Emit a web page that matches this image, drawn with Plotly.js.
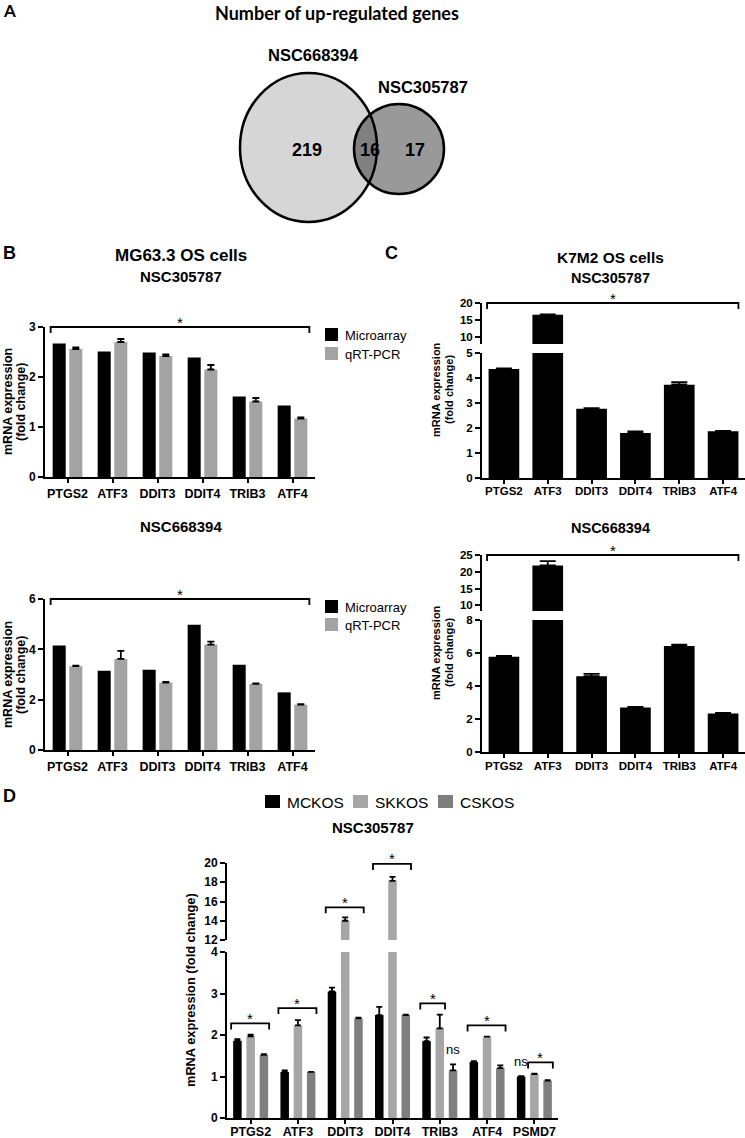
<!DOCTYPE html>
<html><head><meta charset="utf-8">
<script src="https://cdn.plot.ly/plotly-3.0.1.min.js"></script>
<style>html,body{margin:0;padding:0;background:#fff;}#chart{width:745px;height:1138px;}</style>
</head><body><div id="chart"></div>
<script>
// ---------------- DATA ----------------
const genesBC = ['PTGS2','ATF3','DDIT3','DDIT4','TRIB3','ATF4'];
const genesD = ['PTGS2','ATF3','DDIT3','DDIT4','TRIB3','ATF4','PSMD7'];
const seriesB = ['Microarray','qRT-PCR'];
const seriesD = ['MCKOS','SKKOS','CSKOS'];
const vennSets = ['NSC668394','NSC305787'];
const vennCounts = [219, 16, 17]; // only NSC668394, both, only NSC305787

// B: MG63.3 OS cells
const b305Micro = [2.67, 2.51, 2.49, 2.39, 1.61, 1.43];
const b305Qrt = [2.56, 2.70, 2.42, 2.15, 1.51, 1.17];
const b305QrtErr = [0.03, 0.06, 0.03, 0.09, 0.07, 0.02];
const b668Micro = [4.15, 3.15, 3.19, 4.98, 3.39, 2.29];
const b668Qrt = [3.33, 3.62, 2.68, 4.19, 2.63, 1.80];
const b668QrtErr = [0.02, 0.32, 0.03, 0.12, 0.02, 0.02];

// C: K7M2 OS cells
const c305 = [4.36, 16.5, 2.77, 1.80, 3.73, 1.87];
const c305Err = [0.02, 0.10, 0.02, 0.06, 0.10, 0.01];
const c668 = [5.78, 21.9, 4.59, 2.69, 6.42, 2.34];
const c668Err = [0.05, 1.30, 0.14, 0.05, 0.08, 0.03];

// D: NSC305787
const dMCKOS = [1.86, 1.11, 3.05, 2.48, 1.85, 1.35, 1.00];
const dMCKOSErr = [0.04, 0.04, 0.09, 0.20, 0.09, 0.02, 0.01];
const dSKKOS = [1.97, 2.23, 14.0, 18.15, 2.16, 1.96, 1.06];
const dSKKOSErr = [0.04, 0.13, 0.35, 0.40, 0.33, 0.00, 0.01];
const dCSKOS = [1.52, 1.11, 2.40, 2.48, 1.15, 1.20, 0.90];
const dCSKOSErr = [0.02, 0.00, 0.02, 0.01, 0.14, 0.07, 0.01];

// significance brackets in D: gene, first series, last series, level, label
const dSigGene = ['PTGS2','ATF3','DDIT3','DDIT4','TRIB3','ATF4','PSMD7'];
const dSigFrom = [0, 0, 0, 0, 0, 0, 1];
const dSigTo = [2, 2, 2, 2, 1, 2, 2];
const dSigLevel = [2.28, 2.65, 15.4, 19.9, 2.76, 2.23, 1.34];
const dNsGene = ['TRIB3','PSMD7'];
const dNsSeries = [2, 0];
const dNsLevel = [1.64, 1.35];

// ---------------- LAYOUT HELPERS ----------------
const W = 745, H = 1138;
const X = p => p / W;
const Y = p => 1 - p / H;
const FF = 'Liberation Sans, Arial, sans-serif';
const colB = ['#000000', '#a3a3a3'];
const colD = ['#000000', '#a6a6a6', '#7f7f7f'];

const G = {
  b1: {x0:45, x1:315, top:327, bottom:477, r:[0,3], n:6},
  b2: {x0:45, x1:315, top:599, bottom:750, r:[0,6], n:6},
  c1L:{x0:482, x1:745, top:353, bottom:478, r:[0,5], n:6},
  c1U:{x0:482, x1:745, top:303, bottom:344, r:[7.8,20], n:6},
  c2L:{x0:482, x1:745, top:620, bottom:752, r:[0,8], n:6},
  c2U:{x0:482, x1:745, top:555, bottom:611, r:[8.3,25], n:6},
  dL: {x0:227, x1:558, top:952, bottom:1118, r:[0,4], n:7},
  dU: {x0:227, x1:558, top:863, bottom:940, r:[12,20], n:7}
};
const yPix = (g, v) => g.top + (g.r[1] - v) / (g.r[1] - g.r[0]) * (g.bottom - g.top);
const xPix = (g, i, off) => g.x0 + (i + 0.5 + off) / g.n * (g.x1 - g.x0);

const wB = 0.29, offB = [-0.33, 0.04];
const wC = 0.70, offC = -0.35;
const wD = 0.18, offD = [-0.37, -0.09, 0.19];

function xAxis(g, anchor, cats, fs, standoff) {
  return {domain:[X(g.x0), X(g.x1)], anchor, type:'category', categoryarray:cats, range:[-0.5, cats.length-0.5],
    showline:true, linewidth:2, linecolor:'#000', ticks:'outside', ticklen:4, tickwidth:2, tickcolor:'#000',
    ticklabelstandoff:standoff,
    tickfont:{family:FF, size:fs, color:'#000', weight:'bold'}, showgrid:false, zeroline:false, fixedrange:true};
}
function yAxis(g, anchor, tv, fs) {
  return {domain:[Y(g.bottom), Y(g.top)], anchor, range:g.r, tickvals:tv, ticktext:tv.map(String),
    showline:true, linewidth:2, linecolor:'#000', ticks:'outside', ticklen:5, tickwidth:2, tickcolor:'#000',
    tickfont:{family:FF, size:fs, color:'#000', weight:'bold'}, showgrid:false, zeroline:false, fixedrange:true};
}
const errUp = (arr, w) => ({type:'data', symmetric:false, array:arr, arrayminus:arr.map(() => 0),
  color:'#000', thickness:1.8, width:w});

// ---------------- TRACES ----------------
const traces = [];
// B top
traces.push({type:'bar', x:genesBC, y:b305Micro, xaxis:'x', yaxis:'y', width:wB, offset:offB[0],
  marker:{color:colB[0]}, name:seriesB[0], showlegend:false});
traces.push({type:'bar', x:genesBC, y:b305Qrt, xaxis:'x', yaxis:'y', width:wB, offset:offB[1],
  marker:{color:colB[1]}, name:seriesB[1], showlegend:false, error_y:errUp(b305QrtErr, 3.5)});
// B bottom
traces.push({type:'bar', x:genesBC, y:b668Micro, xaxis:'x2', yaxis:'y2', width:wB, offset:offB[0],
  marker:{color:colB[0]}, name:seriesB[0], showlegend:false});
traces.push({type:'bar', x:genesBC, y:b668Qrt, xaxis:'x2', yaxis:'y2', width:wB, offset:offB[1],
  marker:{color:colB[1]}, name:seriesB[1], showlegend:false, error_y:errUp(b668QrtErr, 3.5)});
// C top (broken axis: lower y3, upper y4)
['y3','y4'].forEach(ya => traces.push({type:'bar', x:genesBC, y:c305, xaxis:'x3', yaxis:ya, width:wC, offset:offC,
  marker:{color:'#000'}, name:'NSC305787', showlegend:false, error_y:errUp(c305Err, 8)}));
// C bottom (lower y5, upper y6)
['y5','y6'].forEach(ya => traces.push({type:'bar', x:genesBC, y:c668, xaxis:'x4', yaxis:ya, width:wC, offset:offC,
  marker:{color:'#000'}, name:'NSC668394', showlegend:false, error_y:errUp(c668Err, 8)}));
// D (lower y7, upper y8)
const dVals = [dMCKOS, dSKKOS, dCSKOS];
const dErrs = [dMCKOSErr, dSKKOSErr, dCSKOSErr];
['y7','y8'].forEach(ya => seriesD.forEach((s, k) => traces.push({type:'bar', x:genesD, y:dVals[k],
  xaxis:'x5', yaxis:ya, width:wD, offset:offD[k], marker:{color:colD[k]}, name:s, showlegend:false,
  error_y:errUp(dErrs[k], 3)})));

// ---------------- SHAPES & ANNOTATIONS ----------------
const shapes = [];
const ann = [];
const txt = (x, y, text, size, opts) => Object.assign({xref:'paper', yref:'paper', x:X(x), y:Y(y), text,
  showarrow:false, xanchor:'center', yanchor:'middle', font:{family:FF, size, color:'#000'}}, opts || {});

function bracket(xL, xR, yLine, drop, label) {
  shapes.push({type:'path', xref:'paper', yref:'paper',
    path:`M${X(xL)},${Y(yLine+drop)} L${X(xL)},${Y(yLine)} L${X(xR)},${Y(yLine)} L${X(xR)},${Y(yLine+drop)}`,
    line:{color:'#000', width:1.8}});
  ann.push(txt((xL+xR)/2, yLine-5, label, 15));
}

// Panel A: Venn
const lato = s => ({family:'Lato, Liberation Sans', size:s, color:'#000', weight:'bold'});
ann.push(txt(9, 11, 'A', 17, {font:lato(17)}));
ann.push(txt(337, 13, 'Number of up-regulated genes', 18, {font:lato(18)}));
shapes.push({type:'circle', xref:'paper', yref:'paper', x0:X(240), x1:X(377), y0:Y(222), y1:Y(73),
  fillcolor:'#d6d6d6', line:{color:'#000', width:2.5}});
shapes.push({type:'circle', xref:'paper', yref:'paper', x0:X(354), x1:X(444), y0:Y(194), y1:Y(104),
  fillcolor:'rgba(0,0,0,0.4)', line:{color:'#000', width:2.5}});
const vl = {family:FF, size:16.5, color:'#000', weight:'bold'};
const vn = {family:FF, size:18, color:'#000', weight:'bold'};
ann.push(txt(313, 55, vennSets[0], 16.5, {font:vl}));
ann.push(txt(423, 87, vennSets[1], 16.5, {font:vl}));
ann.push(txt(307, 150, String(vennCounts[0]), 18, {font:vn}));
ann.push(txt(370, 150, String(vennCounts[1]), 18, {font:vn}));
ann.push(txt(415, 150, String(vennCounts[2]), 18, {font:vn}));

const bold = s => ({family:FF, size:s, color:'#000', weight:'bold'});
// Panel B titles
ann.push(txt(9, 253, 'B', 18, {font:bold(18)}));
ann.push(txt(181, 255, 'MG63.3 OS cells', 17, {font:bold(17)}));
ann.push(txt(181, 277, 'NSC305787', 15, {font:bold(15)}));
ann.push(txt(181, 527, 'NSC668394', 15, {font:bold(15)}));
// Panel C titles
ann.push(txt(391, 253, 'C', 18, {font:bold(18)}));
ann.push(txt(610, 257, 'K7M2 OS cells', 15.5, {font:bold(15.5)}));
ann.push(txt(610, 278, 'NSC305787', 14.5, {font:bold(14.5)}));
ann.push(txt(610, 528, 'NSC668394', 14.5, {font:bold(14.5)}));
// Panel D titles
ann.push(txt(9, 796, 'D', 18, {font:bold(18)}));
ann.push(txt(373, 827, 'NSC305787', 15, {font:bold(15)}));

// y-axis titles
const yt = (x, y, t, s) => txt(x, y, t, s, {textangle:-90, font:bold(s)});
ann.push(yt(8, 402, 'mRNA expression', 12.5)); ann.push(yt(21, 402, '(fold change)', 12.5));
ann.push(yt(8, 675, 'mRNA expression', 12.5)); ann.push(yt(21, 675, '(fold change)', 12.5));
ann.push(yt(436, 390, 'mRNA expression', 11)); ann.push(yt(449, 390, '(fold change)', 11));
ann.push(yt(436, 653, 'mRNA expression', 11)); ann.push(yt(449, 653, '(fold change)', 11));
ann.push(yt(190, 990, 'mRNA expression (fold change)', 12.8));

// Legends B (drawn from series names/colors)
[[328, 347], [600, 618]].forEach(tops => seriesB.forEach((s, k) => {
  shapes.push({type:'rect', xref:'paper', yref:'paper', x0:X(325), x1:X(338), y0:Y(tops[k]+13), y1:Y(tops[k]),
    fillcolor:colB[k], line:{width:0}});
  ann.push(txt(343, tops[k]+7, s, 13, {xanchor:'left'}));
}));
// Legend D
const legDx = [265, 353, 438];
seriesD.forEach((s, k) => {
  shapes.push({type:'rect', xref:'paper', yref:'paper', x0:X(legDx[k]), x1:X(legDx[k]+15), y0:Y(808), y1:Y(795),
    fillcolor:colD[k], line:{width:0}});
  ann.push(txt(legDx[k]+20, 802, s, 15.5, {xanchor:'left'}));
});

// Brackets B and C (all genes)
bracket(xPix(G.b1,0,offB[0])-2, xPix(G.b1,5,offB[1]+wB)+2, yPix(G.b1,3), 6, '*');
bracket(xPix(G.b2,0,offB[0])-2, xPix(G.b2,5,offB[1]+wB)+2, yPix(G.b2,6), 6, '*');
bracket(xPix(G.c1U,0,offC)-1.5, xPix(G.c1U,5,offC+wC), yPix(G.c1U,20), 6, '*');
bracket(xPix(G.c2U,0,offC)-1.5, xPix(G.c2U,5,offC+wC), yPix(G.c2U,25), 6, '*');
// Brackets D
dSigGene.forEach((gname, j) => {
  const i = genesD.indexOf(gname);
  const g = dSigLevel[j] > 4 ? G.dU : G.dL;
  bracket(xPix(g,i,offD[dSigFrom[j]])-2, xPix(g,i,offD[dSigTo[j]]+wD)+1, yPix(g,dSigLevel[j]), 6, '*');
});
dNsGene.forEach((gname, j) => {
  const i = genesD.indexOf(gname);
  ann.push(txt(xPix(G.dL,i,offD[dNsSeries[j]]+wD/2), yPix(G.dL,dNsLevel[j]), 'ns', 13));
});

// ---------------- LAYOUT ----------------
const layout = {
  width:W, height:H, margin:{l:0,r:0,t:0,b:0}, paper_bgcolor:'#fff', plot_bgcolor:'rgba(0,0,0,0)',
  showlegend:false, hovermode:false, barmode:'overlay',
  xaxis: xAxis(G.b1, 'y', genesBC, 12.5, 0),
  yaxis: yAxis(G.b1, 'x', [0,1,2,3], 12),
  xaxis2: xAxis(G.b2, 'y2', genesBC, 12.5, 0),
  yaxis2: yAxis(G.b2, 'x2', [0,2,4,6], 12),
  xaxis3: xAxis(G.c1L, 'y3', genesBC, 11.5, -3),
  yaxis3: yAxis(G.c1L, 'x3', [0,1,2,3,4,5], 11.5),
  yaxis4: yAxis(G.c1U, 'x3', [10,15,20], 11.5),
  xaxis4: xAxis(G.c2L, 'y5', genesBC, 11.5, -2),
  yaxis5: yAxis(G.c2L, 'x4', [0,2,4,6,8], 11.5),
  yaxis6: yAxis(G.c2U, 'x4', [10,15,20,25], 11.5),
  xaxis5: xAxis(G.dL, 'y7', genesD, 12.5, -3),
  yaxis7: yAxis(G.dL, 'x5', [0,1,2,3,4], 12),
  yaxis8: yAxis(G.dU, 'x5', [12,14,16,18,20], 12),
  shapes, annotations:ann
};
Plotly.newPlot('chart', traces, layout, {staticPlot:true, displayModeBar:false});
</script></body></html>
